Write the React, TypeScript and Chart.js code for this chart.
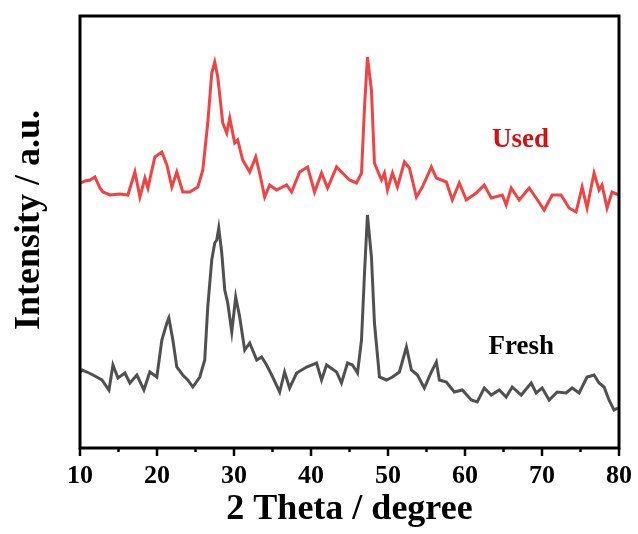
import { useEffect, useRef } from 'react';
import { Chart, registerables } from 'chart.js';

Chart.register(...registerables);

// 2θ (degree) and intensity (a.u.)
const usedX = [10.0, 10.65, 11.3, 11.94, 12.59, 12.98, 13.89, 15.19, 16.22, 17.13, 17.78, 18.43, 18.82, 19.72, 20.63, 21.28, 21.93, 22.57, 23.35, 24.26, 25.3, 25.95, 26.59, 27.11, 27.5, 27.89, 28.54, 29.06, 29.45, 30.09, 30.48, 31.13, 32.04, 32.82, 33.33, 33.98, 34.63, 35.54, 36.83, 37.48, 38.52, 39.56, 40.46, 41.37, 42.15, 43.32, 44.35, 45.0, 45.91, 46.56, 46.95, 47.33, 47.85, 48.24, 49.15, 49.54, 49.93, 50.58, 51.22, 52.13, 52.78, 53.69, 54.46, 55.63, 56.28, 57.58, 58.35, 59.26, 60.17, 61.46, 62.5, 63.41, 64.84, 65.35, 66.0, 67.04, 68.34, 69.24, 70.28, 71.32, 72.48, 73.52, 74.43, 75.21, 75.85, 76.76, 77.41, 77.8, 78.45, 79.09, 80.0];
const usedY = [265, 267, 268, 271, 260, 256, 253, 254, 253, 276, 251, 270, 260, 291, 296, 283, 261, 276, 256, 256, 261, 278, 325, 375, 386, 371, 325, 315, 330, 305, 308, 288, 276, 291, 275, 251, 263, 258, 263, 256, 276, 281, 256, 275, 260, 281, 273, 268, 265, 275, 341, 391, 358, 285, 268, 275, 258, 275, 261, 286, 280, 251, 261, 281, 270, 266, 248, 265, 248, 255, 263, 250, 253, 243, 260, 248, 260, 250, 238, 253, 253, 240, 236, 261, 240, 275, 258, 263, 240, 256, 253];

const freshX = [10.0, 10.26, 10.91, 11.69, 12.85, 13.76, 14.28, 14.93, 15.83, 16.48, 17.39, 18.3, 19.07, 19.98, 20.63, 21.28, 21.54, 22.06, 22.57, 23.35, 24.0, 24.65, 25.56, 26.2, 26.59, 27.11, 27.5, 27.76, 28.02, 28.41, 28.8, 29.19, 29.71, 30.22, 30.74, 31.39, 32.04, 32.95, 33.59, 34.24, 35.02, 35.93, 36.57, 37.22, 38.13, 39.43, 40.72, 41.37, 42.02, 43.32, 43.96, 44.74, 45.39, 46.04, 46.56, 46.95, 47.33, 47.85, 48.24, 48.89, 49.8, 50.58, 51.48, 52.39, 53.04, 53.82, 54.72, 55.63, 56.28, 56.67, 57.58, 58.61, 59.65, 60.82, 61.59, 62.5, 63.41, 64.45, 65.35, 66.13, 67.3, 68.6, 69.24, 70.02, 70.93, 71.97, 73.13, 73.91, 74.82, 75.85, 76.76, 77.41, 78.06, 78.7, 79.35, 79.87];
const freshY = [76, 78, 76, 73, 68, 58, 83, 70, 75, 65, 73, 58, 76, 71, 108, 125, 130, 108, 81, 73, 68, 61, 71, 88, 141, 188, 205, 208, 220, 195, 158, 145, 116, 151, 131, 98, 105, 88, 91, 83, 71, 56, 76, 60, 75, 81, 85, 68, 83, 76, 65, 85, 83, 75, 108, 175, 233, 191, 125, 71, 68, 71, 76, 101, 78, 73, 60, 76, 86, 68, 66, 56, 58, 48, 46, 60, 53, 58, 51, 61, 53, 65, 55, 60, 48, 56, 55, 60, 55, 71, 73, 65, 61, 48, 38, 40];

const seriesNames = ['Used', 'Fresh'];
const seriesColors = ['rgb(242, 66, 66)', 'rgb(80, 80, 80)'];
const nameColors = ['rgb(214, 16, 16)', '#000000'];
const nameX = [67.2, 67.3];
const nameY = [308, 101];

const xMin = 10;
const xMax = 80;
const xMajorStep = 10;
const xMinorStep = 5;

const FONT = '"Liberation Serif", "Times New Roman", serif';

const framePlugin = {
  id: 'frameAndNames',
  afterDatasetsDraw(chart: any) {
    const { ctx, chartArea: a, scales } = chart;
    const xs = scales.x;
    const ys = scales.y;
    ctx.save();
    // minor / major ticks
    ctx.strokeStyle = '#000';
    ctx.lineWidth = 2.5;
    for (let v = xMin; v <= xMax + 1e-9; v += xMinorStep) {
      const px = xs.getPixelForValue(v);
      const len = Math.abs(v % xMajorStep) < 1e-9 ? 8 : 4;
      ctx.beginPath();
      ctx.moveTo(px, a.bottom);
      ctx.lineTo(px, a.bottom + len);
      ctx.stroke();
    }
    // frame
    ctx.lineWidth = 3;
    ctx.strokeRect(a.left, a.top, a.right - a.left, a.bottom - a.top);
    // series names
    ctx.font = `bold 27px ${FONT}`;
    ctx.textAlign = 'center';
    ctx.textBaseline = 'middle';
    seriesNames.forEach((n, i) => {
      ctx.fillStyle = nameColors[i];
      ctx.fillText(n, xs.getPixelForValue(nameX[i]), ys.getPixelForValue(nameY[i]));
    });
    // y title
    ctx.fillStyle = '#000';
    ctx.font = `bold 36px ${FONT}`;
    ctx.translate(30, (a.top + a.bottom) / 2 - 12);
    ctx.rotate(-Math.PI / 2);
    ctx.fillText('Intensity / a.u.', 0, 0);
    ctx.restore();
  },
};

export default function App() {
  const ref = useRef<HTMLCanvasElement>(null);
  useEffect(() => {
    const chart = new Chart(ref.current!, {
      type: 'line',
      data: {
        datasets: [
          {
            label: seriesNames[0],
            data: usedX.map((x, i) => ({ x, y: usedY[i] })),
            borderColor: seriesColors[0],
            borderWidth: 3,
            pointRadius: 0,
            tension: 0,
          },
          {
            label: seriesNames[1],
            data: freshX.map((x, i) => ({ x, y: freshY[i] })),
            borderColor: seriesColors[1],
            borderWidth: 3,
            pointRadius: 0,
            tension: 0,
          },
        ],
      },
      options: {
        responsive: false,
        animation: false,
        layout: { padding: { left: 0, right: 18, top: 16, bottom: 0 } },
        plugins: { legend: { display: false }, tooltip: { enabled: false } },
        scales: {
          x: {
            type: 'linear',
            min: xMin,
            max: xMax,
            border: { display: false },
            grid: { drawOnChartArea: false, tickLength: 7, tickColor: 'transparent' },
            ticks: {
              stepSize: xMajorStep,
              color: '#000',
              padding: 6,
              maxRotation: 0,
              font: { family: FONT, size: 26, weight: 'bold' },
            },
            title: {
              display: true,
              text: '2 Theta / degree',
              color: '#000',
              font: { family: FONT, size: 36, weight: 'bold' },
              padding: { top: 0, bottom: 2.5 },
            },
            afterFit: (s: any) => {
              s.height = 86;
            },
          },
          y: {
            type: 'linear',
            min: 0,
            max: 432,
            border: { display: false },
            grid: { display: false },
            ticks: { display: false },
            afterFit: (s: any) => {
              s.width = 80;
            },
          },
        },
      },
      plugins: [framePlugin],
    });
    return () => chart.destroy();
  }, []);
  return (
    <div style={{ position: 'fixed', left: 0, top: 0, width: 638, height: 534, background: '#fff' }}>
      <canvas ref={ref} width={638} height={534} />
    </div>
  );
}
